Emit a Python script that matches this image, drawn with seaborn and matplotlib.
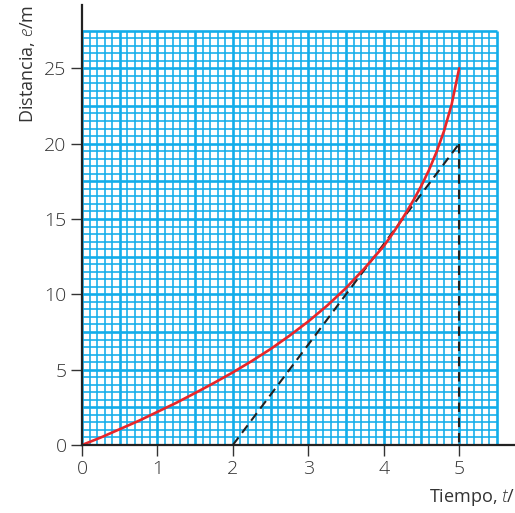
import numpy as np
import pandas as pd
import matplotlib
matplotlib.use("Agg")
import matplotlib.pyplot as plt
import seaborn as sns

# curve
tiempo = [0, 0.25, 0.5, 0.75, 1.0, 1.25, 1.5, 1.75, 2.0, 2.25, 2.5, 2.75,
          3.0, 3.25, 3.5, 3.75, 4.0, 4.1, 4.2, 4.3, 4.4, 4.5, 4.6, 4.7,
          4.8, 4.9, 5.0]
distancia = [0, 0.5, 1.05, 1.6, 2.2, 2.8, 3.45, 4.12, 4.82, 5.57, 6.37, 7.25,
             8.2, 9.25, 10.42, 11.75, 13.2, 13.9, 14.65, 15.45, 16.3, 17.22,
             18.25, 19.45, 20.85, 22.6, 25.0]

# tangent line and the drop line
tangente_t = [2, 5]
tangente_e = [0, 20]
vertical_t = [5, 5]
vertical_e = [20, 0]

x_ticks = [0, 1, 2, 3, 4, 5]
y_ticks = [0, 5, 10, 15, 20, 25]

sns.set_style("ticks")
plt.rcParams['font.family'] = ['Open Sans', 'DejaVu Sans']
plt.rcParams['font.weight'] = 'light'
plt.rcParams['mathtext.fontset'] = 'custom'
plt.rcParams['mathtext.it'] = 'Open Sans:italic:light'
plt.rcParams['mathtext.rm'] = 'Open Sans:light'

fig = plt.figure(figsize=(5.15, 5.13), dpi=100)
ax = fig.add_axes([82 / 515, 68 / 513, 433 / 515, 440 / 513])

# graph paper
grid_col = '#12adea'
for gx in np.arange(0, 5.5001, 0.1):
    major = abs(gx / 0.5 - round(gx / 0.5)) < 1e-6
    ax.vlines(gx, 0, 27.5, color=grid_col, lw=1.9 if major else 1.15, zorder=1)
for gy in np.arange(0, 27.5001, 0.5):
    major = abs(gy / 2.5 - round(gy / 2.5)) < 1e-6
    ax.hlines(gy, 0, 5.5, color=grid_col, lw=1.9 if major else 1.15, zorder=1)

df = pd.DataFrame({'t': tiempo, 'e': distancia})
sns.lineplot(data=df, x='t', y='e', color='#e8262a', lw=1.9, ax=ax, zorder=4)
sns.lineplot(x=tangente_t, y=tangente_e, color='#222222', lw=1.5,
             linestyle=(0, (4.5, 2.8)), ax=ax, zorder=3,
             estimator=None, sort=False)
sns.lineplot(x=vertical_t, y=vertical_e, color='#222222', lw=1.5,
             linestyle=(0, (4.5, 2.8)), ax=ax, zorder=3,
             estimator=None, sort=False)

ax.set_xlim(0, 5.74)
ax.set_ylim(0, 29.2)
ax.set_xticks(x_ticks)
ax.set_yticks(y_ticks)
ax.tick_params(axis='both', length=8, width=1, color='#333333',
               labelsize=14, labelcolor='#333333', pad=3)
for s in ['top', 'right']:
    ax.spines[s].set_visible(False)
for s in ['left', 'bottom']:
    ax.spines[s].set_color('#222222')
    ax.spines[s].set_linewidth(1.6)
    ax.spines[s].set_zorder(5)

ax.set_xlabel(r'Tiempo, $t$/', loc='right', fontsize=13, color='#333333', labelpad=6)
ax.set_ylabel(r'Distancia, $e$/m', loc='top', fontsize=13, color='#333333', labelpad=5)

fig.savefig('out.png', dpi=100)
